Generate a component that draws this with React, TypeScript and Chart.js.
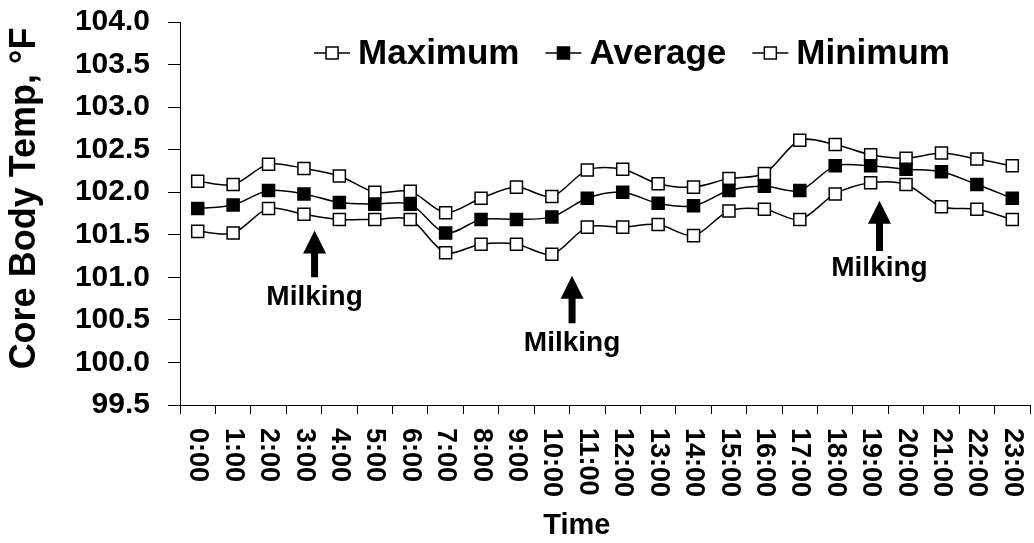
import { useEffect, useRef } from 'react';
import { Chart, registerables } from 'chart.js';

Chart.register(...registerables);

const hours = ['0:00', '1:00', '2:00', '3:00', '4:00', '5:00', '6:00', '7:00', '8:00', '9:00', '10:00', '11:00',
  '12:00', '13:00', '14:00', '15:00', '16:00', '17:00', '18:00', '19:00', '20:00', '21:00', '22:00', '23:00'];

const maximum = [102.13, 102.09, 102.33, 102.28, 102.19, 102.0, 102.01, 101.76, 101.93, 102.06, 101.95, 102.26,
  102.27, 102.1, 102.06, 102.16, 102.22, 102.61, 102.56, 102.44, 102.4, 102.46, 102.39, 102.31];
const average = [101.81, 101.85, 102.02, 101.98, 101.88, 101.86, 101.86, 101.52, 101.68, 101.68, 101.71, 101.93,
  102.0, 101.87, 101.84, 102.02, 102.07, 102.02, 102.31, 102.31, 102.27, 102.24, 102.09, 101.93];
const minimum = [101.54, 101.52, 101.81, 101.74, 101.68, 101.68, 101.68, 101.29, 101.39, 101.39, 101.27, 101.59,
  101.59, 101.62, 101.49, 101.78, 101.8, 101.68, 101.98, 102.11, 102.09, 101.83, 101.8, 101.68];

const seriesNames = ['Maximum', 'Average', 'Minimum'];
const seriesFills = ['#ffffff', '#000000', '#ffffff'];

const yMin = 99.5;
const yMax = 104.0;
const yStep = 0.5;

// Annotation "Milking" arrows, in data space (category index, temperature)
const milkingText = 'Milking';
const milkingAt = [3.3, 10.57, 19.25];
const arrowTip = [101.55, 101.02, 101.9];
const arrowTail = [101.0, 100.46, 101.31];
const milkingLabelAt = [100.77, 100.23, 101.11];

const FAMILY = "'Liberation Sans', Arial, sans-serif";

const overlayPlugin = {
  id: 'overlay',
  afterDraw(chart: any) {
    const ctx = chart.ctx as CanvasRenderingContext2D;
    const xs = chart.scales.x;
    const ys = chart.scales.y;
    const area = chart.chartArea;
    ctx.save();
    ctx.fillStyle = '#000';

    // rotated category labels (reading top to bottom)
    ctx.font = `bold 27px ${FAMILY}`;
    ctx.textAlign = 'left';
    ctx.textBaseline = 'middle';
    hours.forEach((h, i) => {
      const x = xs.getPixelForValue(i);
      ctx.save();
      ctx.translate(x, xs.top + 23);
      ctx.rotate(Math.PI / 2);
      ctx.fillText(h, 0, 0);
      ctx.restore();
    });

    // Milking arrows
    milkingAt.forEach((m, i) => {
      const x = xs.getPixelForValue(m);
      const yTip = ys.getPixelForValue(arrowTip[i]);
      const yTail = ys.getPixelForValue(arrowTail[i]);
      const headH = 23;
      const headW = 23;
      const shaftW = 7;
      ctx.beginPath();
      ctx.moveTo(x, yTip);
      ctx.lineTo(x + headW / 2, yTip + headH);
      ctx.lineTo(x + shaftW / 2, yTip + headH);
      ctx.lineTo(x + shaftW / 2, yTail);
      ctx.lineTo(x - shaftW / 2, yTail);
      ctx.lineTo(x - shaftW / 2, yTip + headH);
      ctx.lineTo(x - headW / 2, yTip + headH);
      ctx.closePath();
      ctx.fill();
      ctx.font = `bold 28px ${FAMILY}`;
      ctx.textAlign = 'center';
      ctx.textBaseline = 'middle';
      ctx.fillText(milkingText, x, ys.getPixelForValue(milkingLabelAt[i]));
    });

    // legend inside plot area
    const ds = chart.data.datasets;
    ctx.font = `bold 35px ${FAMILY}`;
    const symW = 36;
    const symGap = 8;
    const itemGap = 26;
    const widths = ds.map((d: any) => symW + symGap + ctx.measureText(d.label).width);
    const total = widths.reduce((a: number, b: number) => a + b, 0) + itemGap * (ds.length - 1);
    let x = (area.left + area.right) / 2 + 27 - total / 2;
    const y = area.top + 31;
    ds.forEach((d: any, i: number) => {
      ctx.strokeStyle = '#000';
      ctx.lineWidth = 1.5;
      ctx.beginPath();
      ctx.moveTo(x, y);
      ctx.lineTo(x + symW, y);
      ctx.stroke();
      ctx.fillStyle = d.pointBackgroundColor;
      ctx.fillRect(x + symW / 2 - 6, y - 6, 12, 12);
      ctx.strokeRect(x + symW / 2 - 6, y - 6, 12, 12);
      ctx.fillStyle = '#000';
      ctx.textAlign = 'left';
      ctx.textBaseline = 'middle';
      ctx.fillText(d.label, x + symW + symGap, y + 1);
      x += widths[i] + itemGap;
    });
    ctx.restore();
  },
};

export default function App() {
  const ref = useRef<HTMLCanvasElement>(null);
  useEffect(() => {
    document.body.style.margin = '0';
    document.body.style.overflow = 'hidden';
    const mk = (i: number, data: number[], order: number) => ({
      label: seriesNames[i],
      data,
      borderColor: '#000',
      borderWidth: 1.5,
      pointStyle: 'rect',
      pointRadius: 8.5,
      pointBackgroundColor: seriesFills[i],
      pointBorderColor: '#000',
      pointBorderWidth: 1.5,
      tension: 0.3,
      order,
    });
    const chart = new Chart(ref.current!, {
      type: 'line',
      data: {
        labels: hours,
        datasets: [mk(0, maximum, 1), mk(1, average, 0), mk(2, minimum, 2)] as any,
      },
      options: {
        responsive: false,
        animation: false,
        layout: { padding: { top: 22, right: 2, bottom: 0, left: 0 } },
        plugins: {
          tooltip: { enabled: false },
          legend: { display: false },
        },
        scales: {
          x: {
            type: 'category',
            offset: true,
            afterFit: (s: any) => { s.height = 138; s.paddingLeft = 0; s.paddingRight = 0; },
            grid: { offset: true, drawOnChartArea: false, drawTicks: true, tickLength: 9, tickColor: '#000', color: '#000' },
            border: { display: true, color: '#000', width: 1 },
            ticks: { display: false, autoSkip: false },
            title: {
              display: true,
              text: 'Time       ',
              color: '#000',
              font: { family: FAMILY, size: 29, weight: 'bold' },
              padding: { top: 0, bottom: 0 },
            },
          },
          y: {
            min: yMin,
            max: yMax,
            afterFit: (s: any) => { s.width = 180; s.paddingTop = 0; s.paddingBottom = 0; },
            grid: { drawOnChartArea: false, drawTicks: true, tickLength: 12, tickColor: '#000', color: '#000' },
            border: { display: true, color: '#000', width: 1 },
            ticks: {
              stepSize: yStep,
              padding: 18,
              color: '#000',
              font: { family: FAMILY, size: 30, weight: 'bold' },
              callback: (v: any) => Number(v).toFixed(1),
            },
            title: {
              display: true,
              text: '   Core Body Temp, °F',
              color: '#000',
              font: { family: FAMILY, size: 36, weight: 'bold' },
              padding: { top: 3, bottom: 0 },
            },
          },
        },
      },
      plugins: [overlayPlugin],
    });
    return () => chart.destroy();
  }, []);
  return (
    <div style={{ width: 1040, height: 543 }}>
      <canvas ref={ref} width={1040} height={543} style={{ display: 'block' }} />
    </div>
  );
}
